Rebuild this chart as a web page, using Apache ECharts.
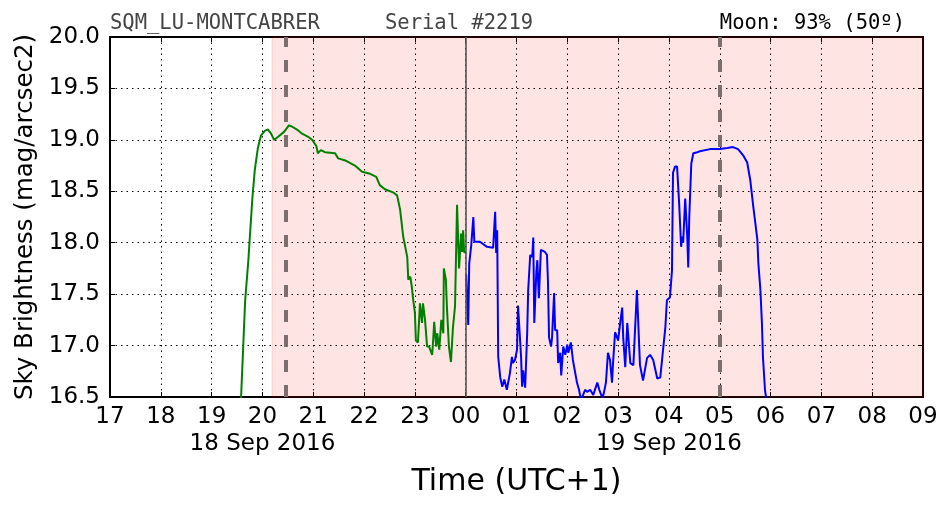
<!DOCTYPE html>
<html>
<head>
<meta charset="utf-8">
<script src="https://cdn.jsdelivr.net/npm/echarts@6/dist/echarts.min.js"></script>
<style>html,body{margin:0;padding:0;background:#fff;}#c{width:952px;height:512px;}</style>
</head>
<body>
<div id="c"></div>
<script>
// Hours counted from 17:00 on 18 Sep 2016 (24 = 00:00 on 19 Sep)
const xTicks = [17,18,19,20,21,22,23,24,25,26,27,28,29,30,31,32,33];
const yTicks = [16.5,17.0,17.5,18.0,18.5,19.0,19.5,20.0];
const dateLabels = {20: '18 Sep 2016', 28: '19 Sep 2016'};

const greenTimes = [19.54,19.58,19.66,19.72,19.80,19.85,19.91,19.97,20.05,20.11,20.17,20.23,20.31,20.43,20.52,20.58,20.68,20.78,20.90,20.98,21.06,21.09,21.15,21.23,21.43,21.49,21.63,21.82,21.96,22.12,22.24,22.31,22.41,22.57,22.65,22.71,22.77,22.85,22.87,22.91,22.94,22.96,23.00,23.02,23.06,23.10,23.14,23.16,23.20,23.24,23.28,23.34,23.36,23.38,23.42,23.44,23.48,23.52,23.56,23.57,23.61,23.63,23.67,23.71,23.75,23.79,23.83,23.87,23.91,23.93,23.95,23.97,24.01];
const greenValues = [16.28,16.50,17.44,17.81,18.42,18.71,18.92,19.04,19.09,19.10,19.06,19.00,19.03,19.08,19.14,19.13,19.10,19.06,19.03,19.00,18.94,18.87,18.90,18.88,18.87,18.82,18.80,18.75,18.69,18.67,18.64,18.56,18.52,18.49,18.46,18.32,18.06,17.86,17.64,17.67,17.57,17.47,17.32,17.05,17.03,17.41,17.22,17.41,17.25,16.99,16.99,16.91,17.05,17.23,16.99,17.12,16.96,17.25,17.12,17.75,17.64,17.38,16.99,16.84,17.18,17.38,18.37,17.75,18.09,17.91,18.12,17.91,17.90];

const blueTimes = [24.01,24.03,24.05,24.07,24.11,24.15,24.17,24.28,24.42,24.54,24.58,24.60,24.62,24.64,24.68,24.72,24.76,24.81,24.87,24.91,24.93,24.97,25.01,25.03,25.05,25.09,25.11,25.13,25.17,25.21,25.23,25.27,25.31,25.33,25.35,25.39,25.41,25.44,25.48,25.56,25.60,25.62,25.64,25.68,25.70,25.74,25.76,25.80,25.82,25.86,25.88,25.92,25.96,26.00,26.02,26.07,26.11,26.13,26.19,26.23,26.27,26.35,26.39,26.45,26.51,26.59,26.63,26.69,26.72,26.76,26.80,26.84,26.88,26.90,26.94,27.00,27.04,27.08,27.10,27.14,27.18,27.24,27.30,27.37,27.43,27.49,27.57,27.63,27.69,27.77,27.83,27.87,27.93,27.96,28.02,28.06,28.08,28.12,28.16,28.20,28.24,28.26,28.28,28.32,28.36,28.38,28.40,28.44,28.48,28.56,28.61,28.81,29.00,29.15,29.26,29.36,29.46,29.54,29.60,29.66,29.74,29.76,29.80,29.83,29.85,29.89,29.91,29.93];
const blueValues = [17.69,17.44,17.20,17.80,17.98,18.25,18.01,18.01,17.96,17.95,18.30,17.90,18.12,16.89,16.69,16.60,16.67,16.57,16.73,16.89,16.83,16.86,16.96,17.39,17.39,16.89,16.60,16.76,16.59,17.12,17.54,17.88,17.86,18.05,17.22,17.71,17.83,17.46,17.93,17.91,17.88,17.61,17.08,16.99,17.08,17.51,17.15,17.15,16.83,16.93,16.71,16.99,16.91,17.01,16.93,17.03,16.86,16.86,16.64,16.57,16.47,16.57,16.55,16.57,16.52,16.64,16.57,16.49,16.54,16.64,16.93,16.86,16.64,16.83,17.13,17.05,17.22,17.37,17.08,16.79,17.22,16.83,16.81,17.54,16.81,16.66,16.88,16.91,16.86,16.68,16.69,16.89,17.18,17.44,17.47,17.73,18.68,18.74,18.74,18.39,17.96,18.06,18.00,18.43,18.06,17.76,18.25,18.77,18.87,18.88,18.89,18.91,18.91,18.92,18.93,18.91,18.85,18.78,18.61,18.35,18.03,17.80,17.54,17.22,16.89,16.57,16.50,16.28];

const nightStart = 20.19, nightEnd = 33;
const moonEvents = [20.46, 29.0];
const midnight = 24;

const titleLeft = 'SQM_LU-MONTCABRER';
const titleSerial = 'Serial #2219';
const titleMoon = 'Moon: 93% (50º)';

const zip = (a, b) => a.map((v, i) => [v, b[i]]);
const chart = echarts.init(document.getElementById('c'), null, {renderer: 'canvas'});
const gridLine = {show: true, lineStyle: {color: '#000', width: 1, type: [1.5, 4]}};
const FONT = 'DejaVu Sans';

chart.setOption({
  animation: false,
  backgroundColor: '#fff',
  grid: {left: 110, right: 29, top: 37, bottom: 115, show: true, borderColor: '#000', borderWidth: 2, backgroundColor: 'transparent'},
  xAxis: [{
    type: 'value', min: 17, max: 33, interval: 1, position: 'bottom',
    axisLine: {show: true, lineStyle: {color: '#000', width: 2}},
    axisTick: {show: true, inside: true, length: 5, lineStyle: {color: '#000', width: 1}},
    splitLine: gridLine,
    axisLabel: {
      margin: 7, fontFamily: FONT, fontSize: 23, color: '#000', lineHeight: 27,
      formatter: v => {
        const h = String(Math.round(v) % 24).padStart(2, '0');
        return dateLabels[v] ? h + '\n' + dateLabels[v] : h;
      }
    },
    name: 'Time (UTC+1)', nameLocation: 'middle', nameGap: 70,
    nameTextStyle: {fontFamily: FONT, fontSize: 30, color: '#000'}
  }, {
    type: 'value', min: 17, max: 33, interval: 1, position: 'top',
    axisLine: {show: true, lineStyle: {color: '#000', width: 2}},
    axisTick: {show: true, inside: true, length: 5, lineStyle: {color: '#000', width: 1}},
    axisLabel: {show: false}, splitLine: {show: false}
  }],
  yAxis: [{
    type: 'value', min: 16.5, max: 20, interval: 0.5, position: 'left',
    axisLine: {show: true, lineStyle: {color: '#000', width: 2}},
    axisTick: {show: true, inside: true, length: 5, lineStyle: {color: '#000', width: 1}},
    splitLine: gridLine,
    axisLabel: {margin: 10, fontFamily: FONT, fontSize: 23, color: '#000', formatter: v => v.toFixed(1)},
    name: 'Sky Brightness (mag/arcsec2)', nameLocation: 'middle', nameGap: 71, nameRotate: 90,
    nameTextStyle: {fontFamily: FONT, fontSize: 24.5, color: '#000'}
  }, {
    type: 'value', min: 16.5, max: 20, interval: 0.5, position: 'right',
    axisLine: {show: true, lineStyle: {color: '#000', width: 2}},
    axisTick: {show: true, inside: true, length: 5, lineStyle: {color: '#000', width: 1}},
    axisLabel: {show: false}, splitLine: {show: false}
  }],
  graphic: [
    {type: 'text', left: 110, top: 13, style: {text: titleLeft, font: '20.5px "DejaVu Sans Mono"', fill: '#444'}},
    {type: 'text', left: 385, top: 13, style: {text: titleSerial, font: '20.5px "DejaVu Sans Mono"', fill: '#444'}},
    {type: 'text', right: 47, top: 13, style: {text: titleMoon, font: '20.5px "DejaVu Sans Mono"', fill: '#000'}}
  ],
  series: [{
    type: 'line', name: 'night', data: [], silent: true, z: 1,
    markArea: {
      silent: true,
      itemStyle: {color: 'rgba(255,0,0,0.105)', borderColor: 'rgba(255,0,0,0.15)', borderWidth: 1},
      data: [[{xAxis: nightStart}, {xAxis: nightEnd}]]
    },
    markLine: {
      silent: true, symbol: 'none', label: {show: false},
      data: [{xAxis: midnight, lineStyle: {color: '#555', width: 1.6, type: 'solid'}}]
    }
  }, {
    type: 'line', name: 'before', data: zip(greenTimes, greenValues), showSymbol: false, clip: true, z: 3,
    lineStyle: {color: '#008000', width: 2}, itemStyle: {color: '#008000'}
  }, {
    type: 'line', name: 'after', data: zip(blueTimes, blueValues), showSymbol: false, clip: true, z: 3,
    lineStyle: {color: '#0000ff', width: 2}, itemStyle: {color: '#0000ff'}
  }, {
    type: 'line', name: 'moon', data: [], silent: true, z: 4,
    markLine: {
      silent: true, symbol: 'none', label: {show: false},
      lineStyle: {color: '#7a6e6e', width: 4, type: [12, 13]},
      data: moonEvents.map(x => ({xAxis: x}))
    }
  }]
});
</script>
</body>
</html>
